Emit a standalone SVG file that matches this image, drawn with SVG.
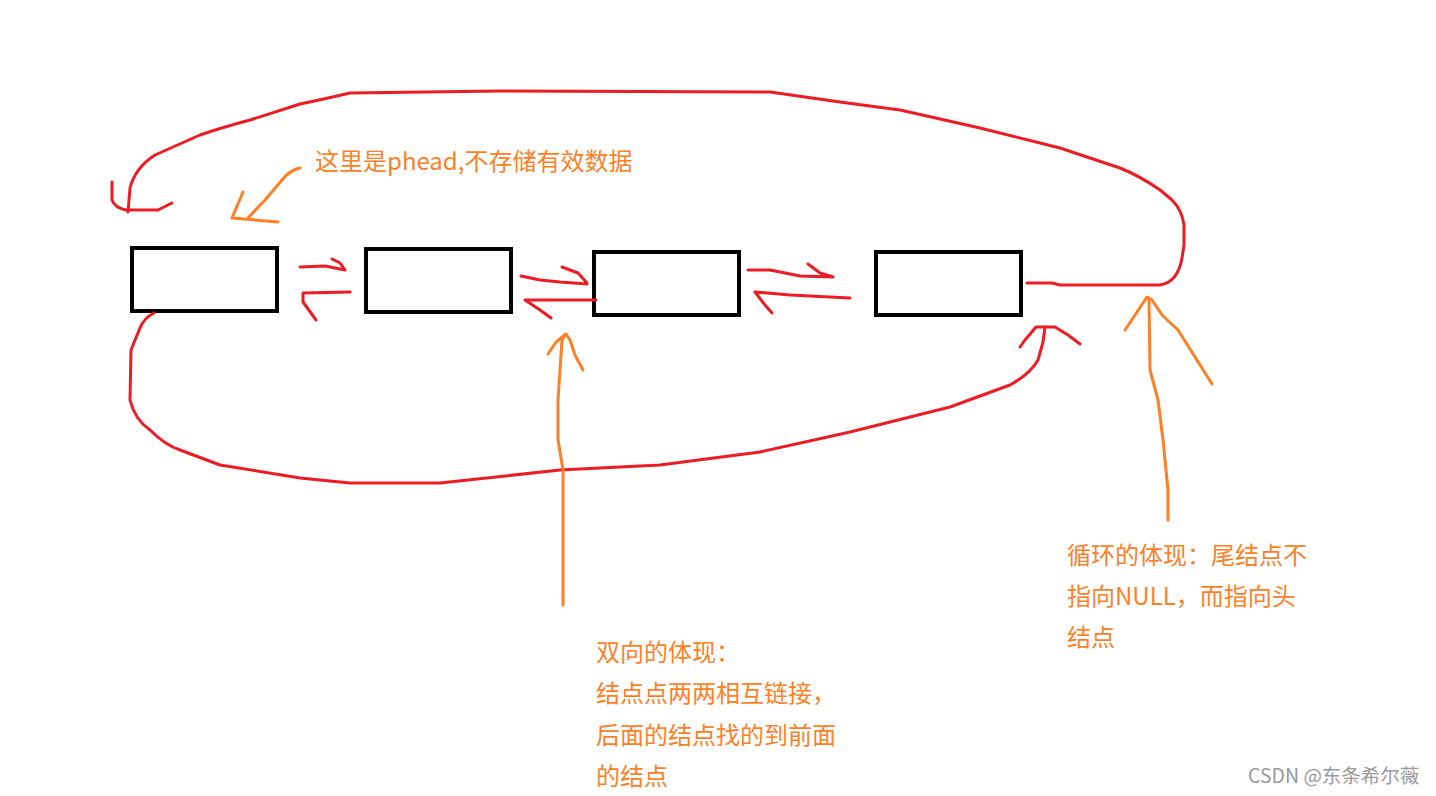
<svg xmlns="http://www.w3.org/2000/svg" width="1436" height="796" viewBox="0 0 1436 796">
<style>
.box{fill:none;stroke:#000;stroke-width:4}
.red{fill:none;stroke:#ED1C24;stroke-width:3;stroke-linecap:round;stroke-linejoin:round}
.org{fill:none;stroke:#FF7F27;stroke-width:3;stroke-linecap:round;stroke-linejoin:round}
.t{font-family:"Noto Sans CJK SC","Liberation Sans",sans-serif;font-size:24px;fill:#FF7F27}
.wm{font-family:"Noto Sans CJK SC","Liberation Sans",sans-serif;font-size:19.5px;fill:#999}
</style>
<rect width="1436" height="796" fill="#fff"/>
<g id="node1"><rect class="box" x="132" y="248" width="145" height="63"/></g>
<g id="node2"><rect class="box" x="366" y="249" width="145" height="63"/></g>
<g id="node3"><rect class="box" x="594" y="252" width="145" height="63"/></g>
<g id="node4"><rect class="box" x="876" y="252" width="145" height="63"/></g>
<g id="connectors">
<path class="red" d="M1027,283 L1052,283 L1060,285 L1160,285 Q1178,282 1182,258 L1184,245 L1184,225 Q1182,210 1172,200 L1160,190 Q1140,176 1120,168 L1060,148 L980,128 L900,110 L840,102 L770,92 L500,91 L350,93 Q320,100 300,104 L250,120 Q220,128 200,135 L155,155 Q135,168 130,188 L128,212"/>
<path class="red" d="M112,182 L112,200 Q115,208 126,210 L158,210 L172,203"/>
<path class="red" d="M154,313 Q144,318 140,328 L131,350 L130,400 Q135,420 150,430 Q165,445 180,450 L220,465 L300,478 L350,483 L440,483 L560,470 L660,465 L760,452 L850,432 L950,407 L1010,385 Q1030,374 1038,360 L1043,342 L1045,327"/>
<path class="red" d="M1020,347 L1025,340 L1036,327 L1055,327 L1068,335 L1080,344"/>
<path class="red" d="M300,267 L325,266 L345,270 M332,259 L340,263 L345,270"/>
<path class="red" d="M350,292 L303,293 L303,302 L316,320"/>
<path class="red" d="M521,276 L540,280 L560,282 L587,284 M562,267 L578,273 L587,283"/>
<path class="red" d="M596,300 L525,300 M525,300 L540,310 L551,318"/>
<path class="red" d="M748,270 L770,270 L800,276 L833,277 M808,264 L820,273 L833,277"/>
<path class="red" d="M850,298 L790,295 L755,292 M755,292 L765,305 L772,313"/>
<path class="org" d="M300,168 Q290,170 282,180 L265,200 L248,218"/>
<path class="org" d="M243,192 L232,218 L278,222"/>
<path class="org" d="M563,605 L563,470 L558,440 L558,400 L562,340 L565,335"/>
<path class="org" d="M548,354 L556,342 L566,334 L570,340 L575,355 L583,370"/>
<path class="org" d="M1168,520 L1168,490 L1163,440 L1158,400 L1150,370 L1149,300"/>
<path class="org" d="M1125,330 L1133,318 L1147,297 L1152,300 L1162,315 L1178,330 L1212,384"/>
</g>
<g id="labels">
<text class="t" x="315" y="170">这里是phead,不存储有效数据</text>
<text class="t" x="596" y="661">双向的体现：</text>
<text class="t" x="596" y="702">结点点两两相互链接，</text>
<text class="t" x="596" y="744">后面的结点找的到前面</text>
<text class="t" x="596" y="785">的结点</text>
<text class="t" x="1067" y="564">循环的体现：尾结点不</text>
<text class="t" x="1067" y="605">指向NULL，而指向头</text>
<text class="t" x="1067" y="646">结点</text>
<text class="wm" x="1248" y="783">CSDN @东条希尔薇</text>
</g>
</svg>
